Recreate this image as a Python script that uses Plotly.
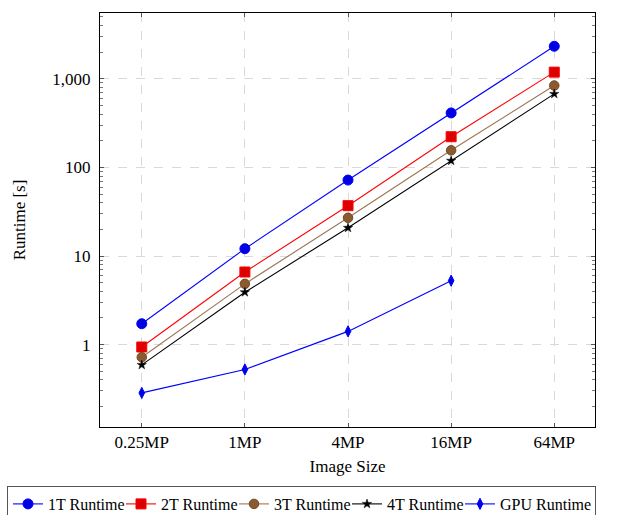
import plotly.graph_objects as go

sizes = ["0.25MP", "1MP", "4MP", "16MP", "64MP"]
t1 = [1.72, 12.1, 72, 412, 2330]
t2 = [0.94, 6.6, 37, 222, 1190]
t3 = [0.72, 4.85, 27, 156, 840]
t4 = [0.59, 3.9, 20.8, 119, 676]
gpu = [0.285, 0.524, 1.41, 5.27]
gpu_sizes = ["0.25MP", "1MP", "4MP", "16MP"]

ytick_vals = [1, 10, 100, 1000]
ytick_text = ["1", "10", "100", "1,000"]

FONT = "'Liberation Serif', 'Times New Roman', serif"

fig = go.Figure()

series = [
    ("1T Runtime", sizes, t1, "#0000ff", dict(symbol="circle", size=10, color="#0000e0", line=dict(color="#0000ff", width=1)), 68),
    ("2T Runtime", sizes, t2, "#ff0000", dict(symbol="square", size=10, color="#dd0000", line=dict(color="#ff0000", width=1)), 68),
    ("3T Runtime", sizes, t3, "#9c7650", dict(symbol="circle", size=9.5, color="#8c5a2e", line=dict(color="#6e4824", width=1)), 68),
    ("4T Runtime", sizes, t4, "#000000", dict(symbol="star", size=7, color="#000000", line=dict(color="#000000", width=0.5)), 68),
    ("GPU Runtime", gpu_sizes, gpu, "#0000ff", dict(symbol="diamond-tall", size=8, color="#0000e0", line=dict(color="#0000ff", width=1)), 90),
]

for name, xs, ys, lc, mk, lw in series:
    fig.add_trace(go.Scatter(
        x=xs, y=ys, name=name, mode="lines+markers",
        line=dict(color=lc, width=1.1),
        marker=mk,
        legendwidth=lw,
    ))

plot_l, plot_r, plot_t, plot_b = 100, 595, 13, 427
W, H = 642, 515
pw, ph = plot_r - plot_l, plot_b - plot_t

fig.update_layout(
    width=W, height=H,
    margin=dict(l=plot_l, r=W - plot_r, t=plot_t, b=H - plot_b, autoexpand=False),
    paper_bgcolor="white", plot_bgcolor="white",
    font=dict(family=FONT, size=17, color="black"),
    showlegend=True,
    legend=dict(
        orientation="h",
        x=(7 - plot_l) / pw, y=(plot_b - 486) / ph,
        xanchor="left", yanchor="top",
        bordercolor="#555555", borderwidth=1,
        font=dict(family=FONT, size=16, color="black"),
        itemwidth=30,
        tracegroupgap=0,
    ),
)

fig.update_xaxes(
    type="category",
    categoryorder="array", categoryarray=sizes,
    range=[-0.405, 4.395],
    showline=True, linecolor="black", linewidth=1, mirror="allticks",
    ticks="inside", ticklen=4, tickcolor="#555555",
    showgrid=True, gridcolor="#d9d9d9", griddash="dash", gridwidth=1,
    zeroline=False,
    ticklabelstandoff=0,
    title=dict(text="Image Size", standoff=8, font=dict(family=FONT, size=17)),
)

fig.update_yaxes(
    type="log",
    range=[-0.93, 3.743],
    tickvals=ytick_vals, ticktext=ytick_text,
    showline=True, linecolor="black", linewidth=1, mirror="allticks",
    ticks="inside", ticklen=4, tickcolor="#555555",
    showgrid=True, gridcolor="#d9d9d9", griddash="dash", gridwidth=1,
    zeroline=False,
    ticklabelstandoff=5,
    minor=dict(ticks="inside", ticklen=3, tickcolor="#777777", dtick="D1", showgrid=False),
    title=dict(text="Runtime [s]", standoff=22, font=dict(family=FONT, size=17)),
)

fig.write_html(
    "out.html",
    config={"displayModeBar": False},
    post_script="document.body.style.margin='0';",
)
